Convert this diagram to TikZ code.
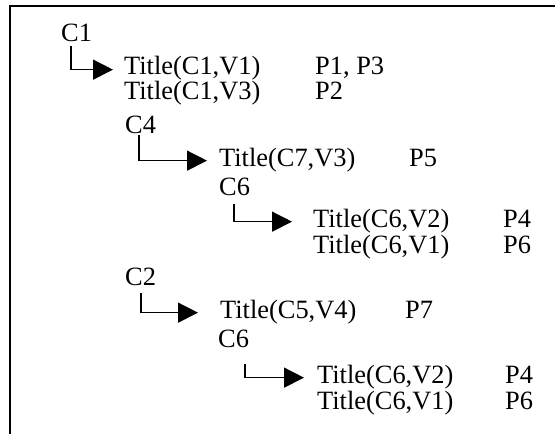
\documentclass[tikz,border=0pt]{standalone}
\usepackage{fontspec}
\setmainfont{Liberation Serif}
\usetikzlibrary{arrows.meta}
\begin{document}
\begin{tikzpicture}[x=1pt,y=-1pt,
  txt/.style={anchor=base west,inner sep=0pt,font=\fontsize{26.4}{28}\selectfont},
  arr/.style={line width=1.4pt,-{Triangle[length=20pt,width=20pt]}},
  frame/.style={line width=2pt}]
\useasboundingbox (0,0) rectangle (555,434);
\draw[frame] (9.5,434) -- (9.5,6) -- (556,6);
% texts
\node[txt] (c1) at (61,41) {C1};
\node[txt] (t11) at (124,74) {Title(C1,V1)};
\node[txt] (p11) at (315,74) {P1, P3};
\node[txt] (t13) at (124,99) {Title(C1,V3)};
\node[txt] (p13) at (315,99) {P2};
\node[txt] (c4) at (125,133) {C4};
\node[txt] (t73) at (219,166) {Title(C7,V3)};
\node[txt] (p73) at (409,166) {P5};
\node[txt] (c6a) at (219,195) {C6};
\node[txt] (t62a) at (313,227) {Title(C6,V2)};
\node[txt] (p62a) at (503,227) {P4};
\node[txt] (t61a) at (313,253) {Title(C6,V1)};
\node[txt] (p61a) at (503,253) {P6};
\node[txt] (c2) at (125,285) {C2};
\node[txt] (t54) at (220,318) {Title(C5,V4)};
\node[txt] (p54) at (405,318) {P7};
\node[txt] (c6b) at (218,347) {C6};
\node[txt] (t62b) at (317,383) {Title(C6,V2)};
\node[txt] (p62b) at (505,383) {P4};
\node[txt] (t61b) at (317,409) {Title(C6,V1)};
\node[txt] (p61b) at (505,409) {P6};
% connectors
\draw[arr] ([xshift=10pt,yshift=-5pt]c1.south west) |- ([xshift=-11pt,yshift=-2pt]t11.west);
\draw[arr] ([xshift=14pt,yshift=-2pt]c4.south west) |- ([xshift=-12pt,yshift=-1pt]t73.west);
\draw[arr] ([xshift=15pt,yshift=-9pt]c6a.south west) |- ([xshift=-21pt,yshift=-1pt]t62a.west);
\draw[arr] ([xshift=16pt,yshift=-8pt]c2.south west) |- ([xshift=-22pt,yshift=-1pt]t54.west);
\draw[arr] ([xshift=27pt,yshift=-17pt]c6b.south west) |- ([xshift=-13pt,yshift=-1pt]t62b.west);
\end{tikzpicture}
\end{document}
